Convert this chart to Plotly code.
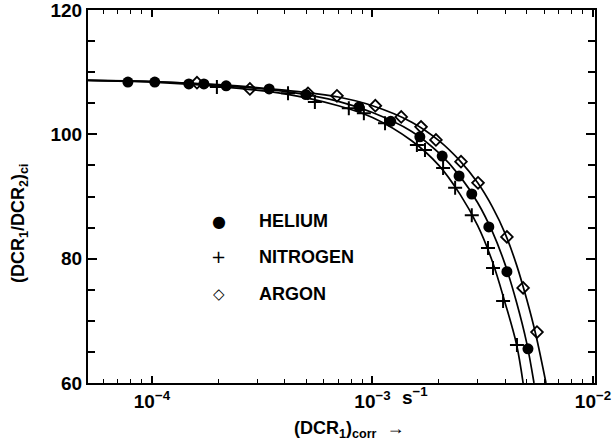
import plotly.graph_objects as go

# ---- measured points ----
he_x = [7.78e-5, 1.03e-4, 1.47e-4, 1.72e-4, 2.17e-4, 3.40e-4, 4.99e-4, 8.69e-4,
        1.21e-3, 1.64e-3, 2.07e-3, 2.47e-3, 2.82e-3, 3.37e-3, 4.07e-3, 5.07e-3]
he_y = [108.4, 108.4, 108.1, 108.1, 107.8, 107.3, 106.4, 104.4,
        102.1, 99.6, 96.5, 93.3, 90.4, 85.1, 77.9, 65.5]

n2_x = [1.97e-4, 4.14e-4, 5.48e-4, 7.81e-4, 9.14e-4, 1.14e-3, 1.59e-3, 1.73e-3,
        2.09e-3, 2.37e-3, 2.82e-3, 3.34e-3, 3.52e-3, 3.91e-3, 4.52e-3]
n2_y = [107.6, 106.6, 105.2, 104.2, 103.4, 101.8, 98.3, 97.5,
        94.6, 91.4, 87.0, 81.7, 78.5, 73.2, 66.1]

ar_x = [1.60e-4, 2.78e-4, 5.10e-4, 6.90e-4, 1.03e-3, 1.35e-3, 1.66e-3, 1.94e-3,
        2.52e-3, 3.01e-3, 4.07e-3, 4.82e-3, 5.57e-3]
ar_y = [108.3, 107.3, 106.6, 106.2, 104.6, 102.8, 101.2, 99.1,
        95.6, 92.2, 83.5, 75.3, 68.2]

# ---- fitted curves ----
he_cx = [5.0e-5, 1e-4, 2e-4, 4e-4, 7e-4, 1e-3, 1.5e-3, 2e-3, 2.5e-3, 3e-3, 3.5e-3, 4e-3, 4.5e-3, 5e-3, 5.4e-3]
he_cy = [108.7, 108.5, 107.9, 106.9, 105.3, 103.5, 100.5, 97.0, 93.2, 89.0, 84.3, 79.0, 73.0, 66.5, 60.0]

n2_cx = [5.0e-5, 1e-4, 2e-4, 4e-4, 7e-4, 1e-3, 1.5e-3, 2e-3, 2.5e-3, 3e-3, 3.5e-3, 4e-3, 4.5e-3, 4.82e-3]
n2_cy = [108.7, 108.4, 107.7, 106.5, 104.6, 102.7, 99.0, 95.0, 90.3, 85.3, 79.5, 72.8, 66.2, 60.0]

ar_cx = [5.0e-5, 1e-4, 2e-4, 4e-4, 7e-4, 1e-3, 1.5e-3, 2e-3, 2.5e-3, 3e-3, 3.5e-3, 4e-3, 4.5e-3, 5e-3, 5.5e-3, 6.12e-3]
ar_cy = [108.7, 108.5, 108.0, 107.1, 106.0, 104.6, 102.0, 99.0, 95.7, 92.2, 88.3, 84.0, 79.0, 73.5, 67.8, 60.0]

x_tickvals = [1e-4, 1e-3, 1e-2]
x_ticktext = ["<b>10<sup>\u22124</sup></b>", "<b>10<sup>\u22123</sup></b>", "<b>10<sup>\u22122</sup></b>"]
y_tickvals = [60, 80, 100, 120]
y_ticktext = ["<b>60</b>", "<b>80</b>", "<b>100</b>", "<b>120</b>"]

legend_names = ["HELIUM", "NITROGEN", "ARGON"]
legend_syms = ["\u25cf", "+", "\u25c7"]

FONT = "Liberation Sans, Arial, sans-serif"

fig = go.Figure()
for cx, cy in [(he_cx, he_cy), (n2_cx, n2_cy), (ar_cx, ar_cy)]:
    fig.add_trace(go.Scatter(x=cx, y=cy, mode="lines", line=dict(color="black", width=1.7, shape="spline"),
                             showlegend=False, hoverinfo="skip"))

fig.add_trace(go.Scatter(x=he_x, y=he_y, mode="markers", name="HELIUM",
                         marker=dict(symbol="circle", size=11, color="black")))
fig.add_trace(go.Scatter(x=n2_x, y=n2_y, mode="markers", name="NITROGEN",
                         marker=dict(symbol="cross-thin", size=10, color="black",
                                     line=dict(color="black", width=2))))
fig.add_trace(go.Scatter(x=ar_x, y=ar_y, mode="markers", name="ARGON",
                         marker=dict(symbol="diamond-open", size=9, color="black",
                                     line=dict(color="black", width=1.8))))

fig.update_layout(
    width=615, height=447,
    margin=dict(l=88, r=20, t=10, b=64, autoexpand=False),
    paper_bgcolor="white", plot_bgcolor="white",
    showlegend=False,
    font=dict(family=FONT, color="black"),
)

fig.update_xaxes(
    type="log", range=[-4.29, -1.991], automargin=False, ticklabeloverflow="allow",
    tickvals=x_tickvals, ticktext=x_ticktext,
    ticks="inside", ticklen=7, tickwidth=1.5, tickcolor="black",
    minor=dict(ticks="inside", ticklen=4, tickwidth=1.3, tickcolor="black", dtick="D1"),
    showline=True, linecolor="black", linewidth=2.2, mirror="ticks",
    showgrid=False, zeroline=False,
    tickfont=dict(size=19, family=FONT, color="black"),
)
fig.update_yaxes(
    range=[60, 120], automargin=False, ticklabeloverflow="allow",
    tickvals=y_tickvals, ticktext=y_ticktext,
    ticks="inside", ticklen=9, tickwidth=1.8, tickcolor="black",
    minor=dict(ticks="inside", ticklen=7, tickwidth=1.5, tickcolor="black", dtick=5),
    showline=True, linecolor="black", linewidth=2.2, mirror="ticks",
    showgrid=False, zeroline=False,
    tickfont=dict(size=19, family=FONT, color="black"),
)

# legend drawn as text
leg_y = [0.434, 0.338, 0.239]
sym_sizes = [16, 18, 15]
for sym, name, yy, ss in zip(legend_syms, legend_names, leg_y, sym_sizes):
    fig.add_annotation(xref="paper", yref="paper", x=0.258, y=yy, text=sym, showarrow=False,
                       xanchor="center", yanchor="middle", font=dict(size=ss, family="DejaVu Sans", color="black"))
    fig.add_annotation(xref="paper", yref="paper", x=0.333, y=yy, text="<b>" + name + "</b>", showarrow=False,
                       xanchor="left", yanchor="middle", font=dict(size=18, family=FONT, color="black"))

# axis titles
fig.add_annotation(xref="paper", yref="paper", x=-0.134, y=0.429,
                   text="<b>(DCR<sub>1</sub>/DCR<sub>2</sub>)<sub>ci</sub></b>", textangle=-90,
                   showarrow=False, xanchor="center", yanchor="middle",
                   font=dict(size=18, family=FONT, color="black"))
fig.add_annotation(xref="paper", yref="paper", x=0.515, y=-0.125,
                   text="<b>(DCR<sub>1</sub>)<sub>corr</sub>  \u2192</b>",
                   showarrow=False, xanchor="center", yanchor="middle",
                   font=dict(size=18, family=FONT, color="black"))
fig.add_annotation(xref="paper", yref="paper", x=0.615, y=-0.035,
                   text="<b>s<sup>\u22121</sup></b>",
                   showarrow=False, xanchor="left", yanchor="middle",
                   font=dict(size=19, family=FONT, color="black"))

fig.write_html("out.html", config={"displayModeBar": False},
               post_script="document.body.style.margin='0';")
